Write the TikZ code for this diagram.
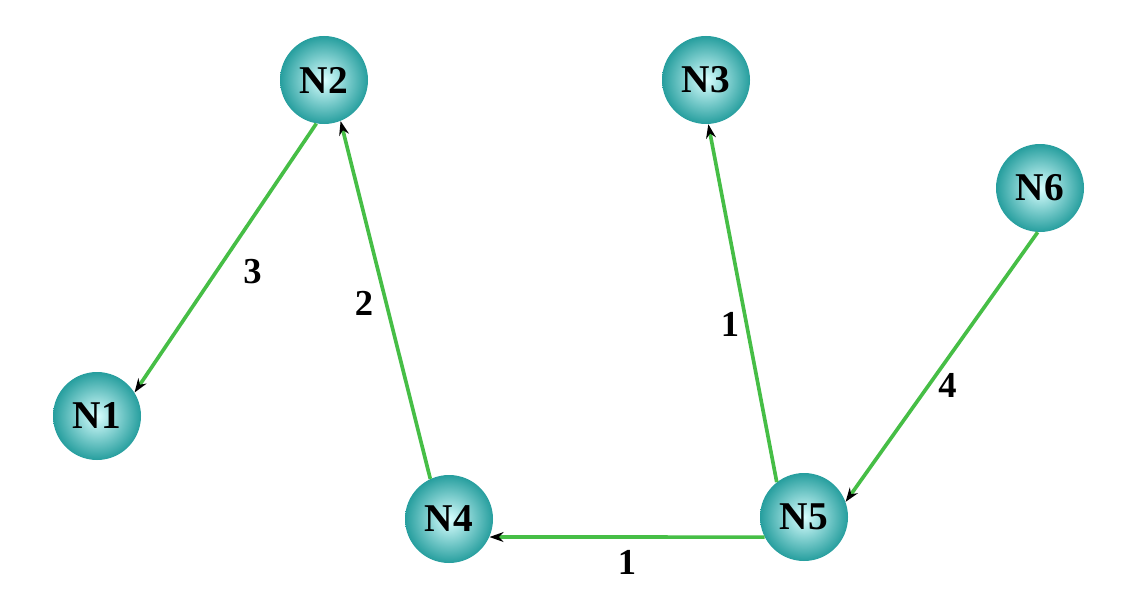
\documentclass[tikz,border=0pt]{standalone}
\usepackage{fontspec}
\setmainfont{Liberation Serif}
\usepackage{tikz}
\usetikzlibrary{arrows.meta}

\tikzset{
  router/.style={circle, minimum size=2.2cm, inner sep=0pt, shading=radial,
    inner color=cyan!15!white, outer color={rgb,255:red,38;green,158;blue,158},
    font=\fontsize{28}{30}\selectfont\bfseries},
  link/.style={draw={rgb,255:red,70;green,190;blue,70}, line width=2.6pt,
    -{Stealth[length=10pt,width=7pt,black]}},
  cost/.style={font=\fontsize{26}{28}\selectfont\bfseries, inner sep=4pt}
}

\begin{document}
\begin{tikzpicture}[auto]
			\useasboundingbox (0,0) rectangle (28.3,15.2);
			% routers
			\node[router] (N1) at (2.425,4.8) {N1};
			\node[router] (N2) at (8.1,13.2) {N2};
			\node[router] (N3) at (17.65,13.2) {N3};
			\node[router] (N4) at (11.225,2.225) {N4};
			\node[router] (N5) at (20.1,2.275) {N5};
			\node[router] (N6) at (26.0,10.5) {N6};
			% links
			\draw[link] (N2.-100) -- (N1.32) node[cost, pos=0.55, right, xshift=14pt] {3};
			\draw[link] (N4.115) -- (N2.-68) node[cost, pos=0.49, left, xshift=-4pt] {2};
			\draw[link] (N5.128) -- (N3.-87) node[cost, pos=0.44, left] {1};
			\draw[link] (N6.-93) -- (N5.20) node[cost, pos=0.57, right, xshift=2pt] {4};
			\draw[link] (N5.207) -- (N4.-24) node[cost, midway, below, yshift=-4pt] {1};
		\end{tikzpicture}
\end{document}
